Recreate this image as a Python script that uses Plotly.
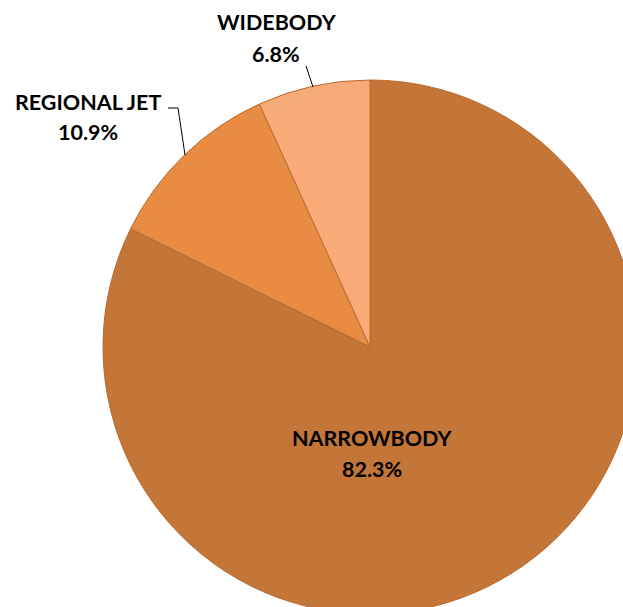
import plotly.graph_objects as go

categories = ["NARROWBODY", "REGIONAL JET", "WIDEBODY"]
shares = [82.3, 10.9, 6.8]
colors = ["#C47538", "#E88C43", "#F8AB78"]

W, H = 640, 620

def fx(x):
    return x / W

def fy(y):
    return 1 - y / H

fig = go.Figure(go.Pie(
    labels=categories,
    values=shares,
    sort=False,
    direction="clockwise",
    rotation=0,
    marker=dict(colors=colors, line=dict(color="#B8692F", width=1)),
    textinfo="none",
    hoverinfo="label+percent",
    showlegend=False,
    domain=dict(x=[fx(103), fx(637)], y=[fy(614), fy(80)]),
))

font = dict(family="Lato, 'Open Sans', sans-serif", size=21.5, color="#000000")
# label positions (name, pct) in pixels
label_pos = {
    "WIDEBODY": ((277, 22), (276, 54)),
    "REGIONAL JET": ((88, 102), (88, 132)),
    "NARROWBODY": ((372, 438), (372, 469)),
}
anns = []
for cat, val in zip(categories, shares):
    (nx, ny), (vx, vy) = label_pos[cat]
    anns.append(dict(x=fx(nx), y=fy(ny), xref="paper", yref="paper", text="<b>%s</b>" % cat,
                     showarrow=False, font=font, xanchor="center", yanchor="middle"))
    anns.append(dict(x=fx(vx), y=fy(vy), xref="paper", yref="paper", text="<b>%.1f%%</b>" % val,
                     showarrow=False, font=font, xanchor="center", yanchor="middle"))

line = dict(color="#000000", width=1)
shapes = [
    dict(type="line", xref="paper", yref="paper", x0=fx(306), y0=fy(66), x1=fx(313), y1=fy(87), line=line),
    dict(type="line", xref="paper", yref="paper", x0=fx(168), y0=fy(108), x1=fx(178), y1=fy(108), line=line),
    dict(type="line", xref="paper", yref="paper", x0=fx(178), y0=fy(108), x1=fx(185), y1=fy(155), line=line),
]

fig.update_layout(
    width=W, height=H,
    margin=dict(l=0, r=0, t=0, b=0),
    paper_bgcolor="#FFFFFF",
    annotations=anns,
    shapes=shapes,
)

fig.write_html("out.html", config={"displayModeBar": False},
               post_script="document.body.style.margin='0';document.body.style.overflow='hidden';")
